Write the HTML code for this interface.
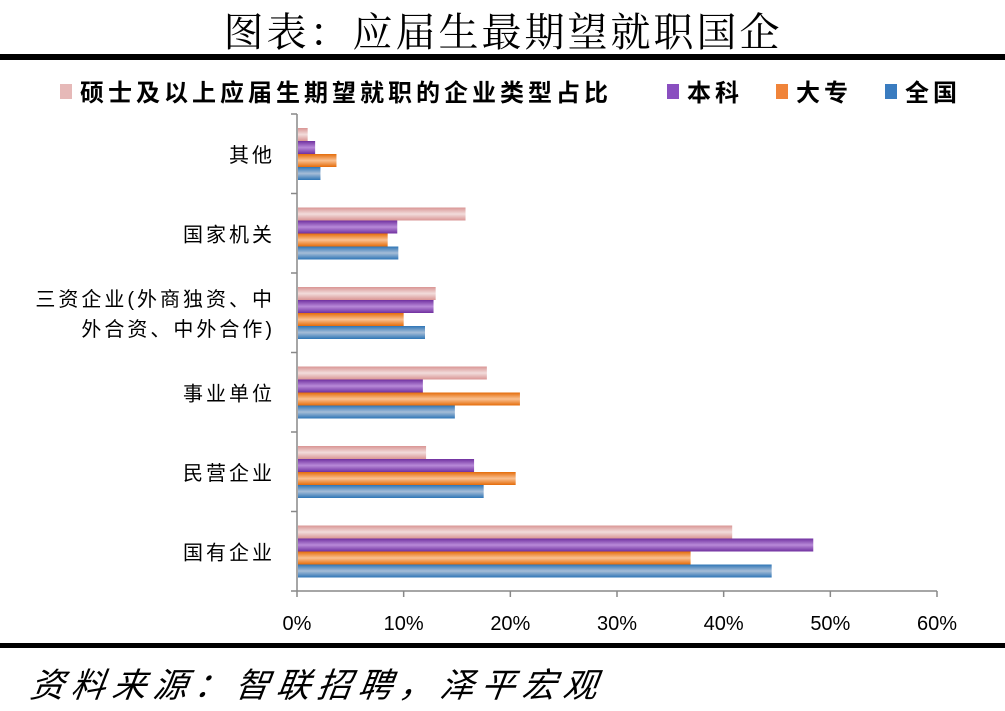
<!DOCTYPE html>
<html><head><meta charset="utf-8"><style>
body{margin:0;background:#fff;}
svg{display:block;font-family:"Liberation Sans","Noto Sans CJK SC",sans-serif;}
</style></head><body>
<svg id="c" width="1005" height="711" viewBox="0 0 1005 711">
<defs>
<linearGradient id="gp" x1="0" y1="0" x2="0" y2="1"><stop offset="0" stop-color="#d99594"/><stop offset="0.5" stop-color="#f2dcdb"/><stop offset="1" stop-color="#d99594"/></linearGradient>
<linearGradient id="gu" x1="0" y1="0" x2="0" y2="1"><stop offset="0" stop-color="#7030a0"/><stop offset="0.5" stop-color="#b88ad8"/><stop offset="1" stop-color="#7030a0"/></linearGradient>
<linearGradient id="go" x1="0" y1="0" x2="0" y2="1"><stop offset="0" stop-color="#e46c0a"/><stop offset="0.5" stop-color="#fac090"/><stop offset="1" stop-color="#e46c0a"/></linearGradient>
<linearGradient id="gb" x1="0" y1="0" x2="0" y2="1"><stop offset="0" stop-color="#2e75b6"/><stop offset="0.5" stop-color="#a6bdd7"/><stop offset="1" stop-color="#2e75b6"/></linearGradient>
</defs>
<text x="503" y="46" text-anchor="middle" font-size="40" letter-spacing="3" font-family="'Noto Serif CJK SC',serif">图表：应届生最期望就职国企</text>
<rect x="0" y="54" width="1005" height="6" fill="#000"/>
<g id="legend" font-size="24" font-weight="bold" letter-spacing="4"></g>
<g id="plot"></g>
<rect x="0" y="643" width="1005" height="5" fill="#000"/>
<text x="30" y="697" font-size="34" letter-spacing="7" font-style="italic" font-family="'Noto Sans CJK SC',sans-serif" transform="skewX(-8) translate(97 0)">资料来源：智联招聘，泽平宏观</text>
</svg>
<script>
const categories=["其他","国家机关","三资企业(外商独资、中|外合资、中外合作)","事业单位","民营企业","国有企业"];
const seriesNames=["硕士及以上应届生期望就职的企业类型占比","本科","大专","全国"];
const master=[1.0,15.8,13.0,17.8,12.1,40.8];
const bachelor=[1.7,9.4,12.8,11.8,16.6,48.4];
const college=[3.7,8.5,10.0,20.9,20.5,36.9];
const national=[2.2,9.5,12.0,14.8,17.5,44.5];
const tickLabels=["0%","10%","20%","30%","40%","50%","60%"];
const tickValues=[0,10,20,30,40,50,60];
const series=[master,bachelor,college,national];
const fills=["url(#gp)","url(#gu)","url(#go)","url(#gb)"];
const solid=["#e6b9b8","#8a4fc0","#f0843a","#3a7cc0"];
const NS="http://www.w3.org/2000/svg";
const X0=297,X1=937,Y0=114,Y1=591;
const xs=v=>X0+(v/60)*(X1-X0);
const band=(Y1-Y0)/categories.length;
const plot=document.getElementById('plot');
function mk(t,a,p){const e=document.createElementNS(NS,t);for(const k in a)e.setAttribute(k,a[k]);p.appendChild(e);return e;}
let ya=mk('line',{x1:X0,y1:Y0,x2:X0,y2:Y1,stroke:'#888','stroke-width':1.5},plot);


let xa=mk('line',{x1:X0,y1:Y1,x2:X1,y2:Y1,stroke:'#888','stroke-width':1.5},plot);


for(let i=0;i<=categories.length;i++){const y=Y0+i*band;mk('line',{x1:X0-6,y1:y,x2:X0,y2:y,stroke:'#888','stroke-width':1.5},plot);}
tickValues.forEach((v,i)=>{const x=xs(v);mk('line',{x1:x,y1:Y1,x2:x,y2:Y1+6,stroke:'#888','stroke-width':1.5},plot);
 const t=mk('text',{x:x,y:630,'text-anchor':'middle','font-size':20},plot);t.textContent=tickLabels[i];
 
 });
categories.forEach((c,ci)=>{
 const top=Y0+ci*band;const cy=top+band/2;
 const lines=c.split('|');
 lines.forEach((ln,li)=>{const t=mk('text',{x:275,y:cy+8+(li-(lines.length-1)/2)*30,'text-anchor':'end','font-size':20,'letter-spacing':3},plot);t.textContent=ln;
  
  });
 series.forEach((s,si)=>{const r=mk('rect',{x:X0+1,y:top+14+si*13,width:Math.max(0,xs(s[ci])-X0-1),height:13,fill:fills[si]},plot);
  
  });
});
const lg=document.getElementById('legend');
const lx=[60,667,776,885];
seriesNames.forEach((n,i)=>{
 const r=mk('rect',{x:lx[i],y:84,width:12,height:15,fill:solid[i]},lg);
 
 
 const t=mk('text',{x:lx[i]+20,y:101},lg);t.textContent=n;
 
 
});
</script>
</body></html>
